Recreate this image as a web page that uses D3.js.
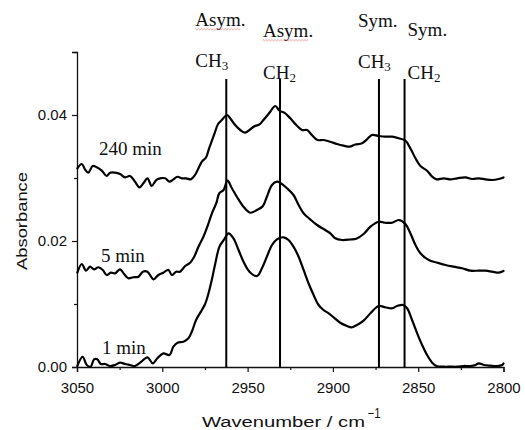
<!DOCTYPE html>
<html>
<head>
<meta charset="utf-8">
<script src="https://cdn.jsdelivr.net/npm/d3@7"></script>
<style>
  body { margin: 0; background: #fff; }
  svg { display: block; }
</style>
</head>
<body>
<script>
// IR spectra, C-H stretching region, [wavenumber cm-1, absorbance]
const min240 = [
  [3049.8,0.03154],[3047.2,0.03222],[3045.3,0.03138],[3043.4,0.03084],[3040.8,0.0319],
  [3038.4,0.0317],[3035.5,0.03116],[3032.6,0.03032],[3030.6,0.03084],[3027.7,0.03084],
  [3024.8,0.03063],[3021.8,0.03011],[3018.9,0.03032],[3016.0,0.02941],[3013.4,0.02852],
  [3011.1,0.02916],[3008.7,0.02995],[3006.2,0.02873],[3003.6,0.02968],[3001.3,0.02995],
  [2998.3,0.02995],[2995.8,0.02941],[2993.5,0.02979],[2991.1,0.0302],[2988.6,0.02995],
  [2986.0,0.02995],[2983.3,0.02979],[2980.8,0.03048],[2978.8,0.03154],[2976.8,0.03259],
  [2974.3,0.03329],[2972.9,0.03444],[2971.4,0.03556],[2969.3,0.03714],[2967.3,0.03857],
  [2965.1,0.0392],[2962.1,0.04],[2959.8,0.03932],[2957.3,0.03841],[2954.3,0.03762],
  [2951.4,0.03719],[2948.9,0.03762],[2946.5,0.03814],[2943.0,0.03852],[2940.7,0.0392],
  [2937.2,0.04037],[2933.8,0.04143],[2931.3,0.04068],[2928.5,0.04037],[2925.0,0.03948],
  [2921.5,0.03841],[2918.1,0.03762],[2915.2,0.03762],[2912.3,0.03683],[2909.0,0.03603],
  [2905.5,0.03603],[2901.5,0.03576],[2897.6,0.0354],[2893.7,0.03513],[2890.2,0.03497],
  [2886.9,0.03532],[2882.9,0.03551],[2880.0,0.03614],[2877.1,0.03683],[2873.2,0.03667],
  [2869.3,0.03656],[2865.3,0.03656],[2861.4,0.0363],[2857.5,0.03592],[2854.6,0.03471],
  [2851.6,0.03313],[2848.7,0.0319],[2844.8,0.03116],[2841.8,0.03021],[2839.3,0.02979],
  [2835.0,0.02995],[2831.1,0.02979],[2827.2,0.02995],[2822.3,0.03011],[2818.4,0.02984],
  [2814.5,0.02995],[2810.6,0.02979],[2806.6,0.02968],[2802.8,0.02984],[2800.0,0.03008]
];

const min5 = [
  [3049.8,0.01497],[3047.2,0.01635],[3044.7,0.01529],[3042.4,0.01592],[3040.0,0.01551],
  [3037.5,0.01583],[3034.9,0.0154],[3032.6,0.0146],[3030.2,0.01497],[3027.7,0.01487],
  [3024.8,0.01551],[3022.4,0.01476],[3019.9,0.01408],[3017.0,0.01424],[3014.0,0.01433],
  [3011.4,0.01513],[3008.7,0.01513],[3005.2,0.01392],[3002.3,0.0146],[2999.4,0.01497],
  [2996.4,0.0154],[2994.4,0.0146],[2991.9,0.01513],[2989.6,0.01513],[2986.6,0.01603],
  [2983.7,0.01656],[2981.3,0.01751],[2978.8,0.0191],[2975.9,0.02068],[2972.9,0.02281],
  [2970.9,0.0244],[2968.4,0.02598],[2966.5,0.02762],[2964.1,0.0281],[2961.8,0.02957],
  [2959.2,0.02837],[2956.3,0.02703],[2952.4,0.02544],[2948.5,0.02449],[2944.5,0.02492],
  [2941.0,0.02556],[2938.7,0.02703],[2935.7,0.02889],[2932.8,0.02941],[2930.5,0.02916],
  [2926.9,0.02837],[2923.1,0.0273],[2920.1,0.02571],[2917.2,0.0244],[2913.3,0.02344],
  [2909.3,0.02254],[2904.5,0.02175],[2901.5,0.02122],[2898.6,0.02043],[2894.7,0.02016],
  [2889.8,0.02024],[2886.3,0.02035],[2882.0,0.02111],[2878.0,0.02227],[2873.2,0.02306],
  [2869.3,0.0229],[2865.3,0.0229],[2861.4,0.02333],[2857.5,0.0227],[2854.6,0.02122],
  [2851.6,0.01937],[2848.7,0.01805],[2843.8,0.01698],[2838.9,0.01656],[2834.0,0.01619],
  [2829.2,0.01592],[2824.2,0.01567],[2819.4,0.01529],[2814.5,0.01529],[2810.6,0.01529],
  [2806.6,0.01513],[2802.8,0.01497],[2800.0,0.01524]
];

const min1 = [
  [3049.8,0.00016],[3046.7,0.00163],[3044.3,0.00032],[3042.0,0.00005],[3040.0,0.00122],
  [3038.1,0.00122],[3036.1,0.00048],[3033.6,0.00048],[3030.6,0.00016],[3027.7,0.00032],
  [3024.8,0.00068],[3021.8,0.00048],[3018.9,0.00032],[3016.0,0.00016],[3013.0,0.00068],
  [3008.7,0.00154],[3005.6,0.00059],[3002.9,0.00138],[2999.4,0.00217],[2995.8,0.0019],
  [2993.5,0.00322],[2991.1,0.00386],[2987.6,0.00402],[2984.7,0.00456],[2982.7,0.0056],
  [2980.2,0.00746],[2976.8,0.00905],[2974.9,0.01],[2972.9,0.0117],[2971.0,0.01381],
  [2969.0,0.01635],[2966.5,0.0191],[2963.7,0.02027],[2961.2,0.02122],[2958.3,0.02043],
  [2955.3,0.01857],[2952.4,0.01671],[2948.9,0.01513],[2944.5,0.01444],[2941.6,0.01567],
  [2938.7,0.01751],[2935.7,0.01937],[2932.8,0.02027],[2928.9,0.02059],[2926.0,0.02016],
  [2923.1,0.0191],[2920.1,0.01751],[2917.2,0.0154],[2914.3,0.01329],[2911.3,0.01143],
  [2908.4,0.00984],[2905.5,0.00905],[2902.5,0.00852],[2899.6,0.00789],[2895.7,0.00703],
  [2891.7,0.00651],[2889.2,0.0063],[2885.9,0.00667],[2882.0,0.00735],[2878.0,0.00852],
  [2873.2,0.00968],[2869.3,0.00948],[2865.3,0.00932],[2862.4,0.00968],[2858.9,0.00984],
  [2856.5,0.00932],[2853.6,0.00746],[2850.6,0.00535],[2847.7,0.00349],[2844.8,0.0019],
  [2841.8,0.00068],[2839.3,0.00016],[2835.0,0.00005],[2831.1,0.00005],[2827.2,0.00005],
  [2823.3,0.00016],[2819.4,0.00016],[2816.4,0.00032],[2814.5,0.00059],[2811.6,0.00032],
  [2807.6,0.00021],[2803.7,0.00016],[2800.8,0.00032],[2800.0,0.00056]
];

const seriesLabels = ["240 min", "5 min", "1 min"];

const xMajor = [3050, 3000, 2950, 2900, 2850, 2800];
const xMinor = [3025, 2975, 2925, 2875, 2825];
const yMajor = [0, 0.02, 0.04];
const yMinor = [0.01, 0.03, 0.05];

// band assignments
const peakWavenumbers = [2962.5, 2931, 2873, 2858];
const peakTop = 0.0457;
const modeLabels = ["Asym.", "Asym.", "Sym.", "Sym."];
const groupLabels = [["CH", "3"], ["CH", "2"], ["CH", "3"], ["CH", "2"]];

const W = 525, H = 430;
const svg = d3.select("body").append("svg").attr("width", W).attr("height", H);

const x = d3.scaleLinear().domain([3050, 2800]).range([77, 503.5]);
const y = d3.scaleLinear().domain([0, 0.05]).range([367, 52]);

const sans = "'Liberation Sans', Arial, sans-serif";
const serif = "'Liberation Serif', 'Times New Roman', serif";

// axes
const gx = svg.append("g").attr("transform", `translate(0,${y(0)})`);
gx.call(d3.axisBottom(x).tickValues(xMajor).tickSize(5).tickPadding(10).tickFormat(d3.format("d")));
gx.append("g").call(d3.axisBottom(x).tickValues(xMinor).tickSize(3).tickFormat(""))
  .select(".domain").remove();

const gy = svg.append("g").attr("transform", `translate(${x(3050)},0)`);
gy.call(d3.axisLeft(y).tickValues(yMajor).tickSize(5).tickPadding(5).tickFormat(d3.format(".2f")));
gy.append("g").call(d3.axisLeft(y).tickValues(yMinor).tickSize(3).tickFormat(""))
  .select(".domain").remove();

svg.selectAll(".domain").attr("stroke", "#111").attr("stroke-width", 1.3);
svg.selectAll(".tick line").attr("stroke", "#111").attr("stroke-width", 1.2);
svg.selectAll(".tick text").attr("font-family", sans).attr("font-size", 15).attr("fill", "#111");

// axis titles (glyphs are wide in the original, stretch to match)
svg.append("text")
  .attr("transform", "translate(26.5,221) rotate(-90)")
  .attr("text-anchor", "middle")
  .attr("font-family", sans).attr("font-size", 15).attr("fill", "#111")
  .attr("textLength", 98).attr("lengthAdjust", "spacingAndGlyphs")
  .text("Absorbance");

svg.append("text")
  .attr("x", 202).attr("y", 426.5)
  .attr("font-family", sans).attr("font-size", 15.5).attr("fill", "#111")
  .attr("textLength", 163).attr("lengthAdjust", "spacingAndGlyphs")
  .text("Wavenumber / cm");
svg.append("text")
  .attr("x", 367.5).attr("y", 418)
  .attr("font-family", sans).attr("font-size", 14).attr("fill", "#111")
  .attr("textLength", 13).attr("lengthAdjust", "spacingAndGlyphs")
  .text("\u22121");

// spectra
const line = d3.line()
  .x(d => x(d[0]))
  .y(d => y(d[1]))
  .curve(d3.curveCatmullRom.alpha(0.5));

const spectra = [min240, min5, min1];
svg.append("g").selectAll("path")
  .data(spectra)
  .join("path")
  .attr("d", line)
  .attr("fill", "none")
  .attr("stroke", "#000")
  .attr("stroke-width", 2.2)
  .attr("stroke-linejoin", "round")
  .attr("stroke-linecap", "round");

// spectrum labels
const labelPos = [[99, 155], [101, 262], [102, 354]];
svg.append("g").selectAll("text")
  .data(seriesLabels)
  .join("text")
  .attr("x", (d, i) => labelPos[i][0])
  .attr("y", (d, i) => labelPos[i][1])
  .attr("font-family", serif).attr("font-size", 19).attr("fill", "#111")
  .text(d => d);

// band marker lines
svg.append("g").selectAll("line")
  .data(peakWavenumbers)
  .join("line")
  .attr("x1", d => x(d)).attr("x2", d => x(d))
  .attr("y1", y(peakTop)).attr("y2", y(0))
  .attr("stroke", "#000").attr("stroke-width", 2);

// band labels
const labelDx = [-31, -17, -21, 3];
const modeY = [26, 37, 27, 36];
const groupY = [67, 79, 68, 79];

const ann = svg.append("g");
peakWavenumbers.forEach((wn, i) => {
  const lx = x(wn) + labelDx[i];
  const mode = ann.append("text")
    .attr("x", lx).attr("y", modeY[i])
    .attr("font-family", serif).attr("font-size", 19).attr("fill", "#111")
    .text(modeLabels[i]);

  // spell-check squiggle under "Asym."
  if (modeLabels[i] === "Asym.") {
    const w = mode.node().getComputedTextLength() - 5;
    const p = d3.path();
    const yy = modeY[i] + 3;
    p.moveTo(lx, yy);
    for (let k = 0, s = 0; s < w; k++, s += 1.5) {
      p.lineTo(lx + s, yy + (k % 2 ? 0.9 : -0.4));
    }
    ann.append("path").attr("d", p.toString())
      .attr("fill", "none").attr("stroke", "#e06060")
      .attr("stroke-width", 0.7).attr("opacity", 0.8);
  }

  const g = ann.append("text")
    .attr("x", lx).attr("y", groupY[i])
    .attr("font-family", serif).attr("font-size", 19).attr("fill", "#111");
  g.append("tspan").text(groupLabels[i][0]);
  g.append("tspan").attr("font-size", 13).attr("dy", 2.5).text(groupLabels[i][1]);
});
</script>
</body>
</html>
